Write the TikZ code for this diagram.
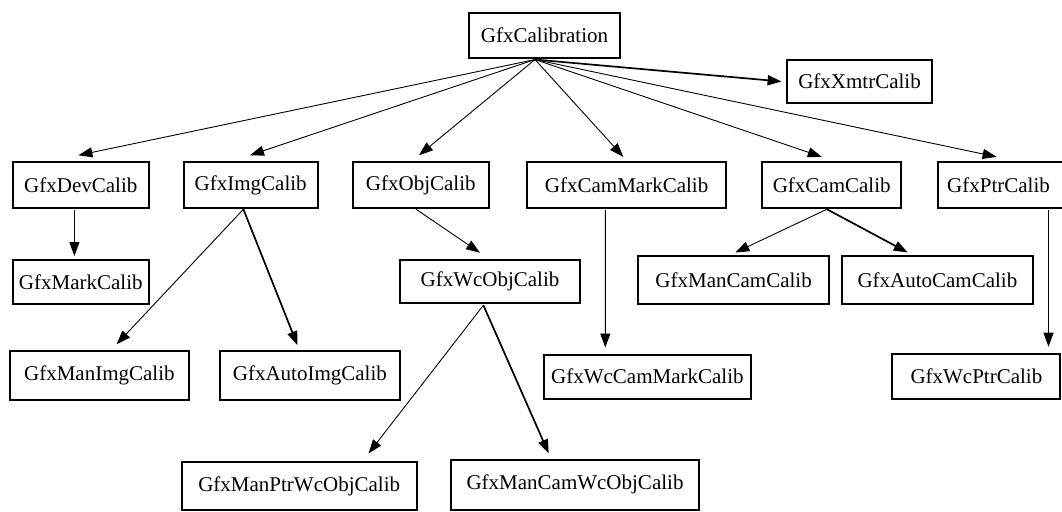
\documentclass[tikz,border=0pt]{standalone}
\usepackage{fontspec}
\setmainfont{Liberation Serif}
\usetikzlibrary{arrows.meta,calc}
\begin{document}
\begin{tikzpicture}[x=1pt,y=-1pt,
  cls/.style={draw=black,line width=2pt,inner sep=0pt,
    font=\fontsize{21}{25}\selectfont},
  edge/.style={draw=black,line width=0.9pt,
    -{Triangle[length=14pt,width=10pt]}},
  heavy/.style={edge,line width=1.7pt}]
\useasboundingbox (0,0) rectangle (1062,511);
% class boxes: \node at (centre) with box size
\node[cls,minimum width=151pt,minimum height=44.7pt] (cal) at (544.5,35.2) {GfxCalibration};
\node[cls,minimum width=145pt,minimum height=42pt] (xmtr) at (859.5,81.5) {GfxXmtrCalib};
\node[cls,minimum width=136pt,minimum height=45.5pt] (dev) at (80.8,185) {GfxDevCalib};
\node[cls,minimum width=134pt,minimum height=45.5pt] (img) at (250.7,185) {GfxImgCalib};
\node[cls,minimum width=136.4pt,minimum height=45.5pt] (obj) at (420.8,185) {GfxObjCalib};
\node[cls,minimum width=198.4pt,minimum height=45.5pt] (cammark) at (626.6,185) {GfxCamMarkCalib};
\node[cls,minimum width=138.5pt,minimum height=45.5pt] (cam) at (831.7,185) {GfxCamCalib};
\node[cls,minimum width=127pt,minimum height=45.5pt] (ptr) at (1001.5,185) {\hspace*{-6pt}GfxPtrCalib};
\node[cls,minimum width=136pt,minimum height=44.5pt] (mark) at (80.8,281.8) {GfxMarkCalib};
\node[cls,minimum width=180pt,minimum height=43.5pt] (wcobj) at (490,281.5) {GfxWcObjCalib};
\node[cls,minimum width=191.4pt,minimum height=48pt] (mancam) at (733.6,280) {GfxManCamCalib};
\node[cls,minimum width=191.7pt,minimum height=48pt] (autocam) at (937.4,280) {GfxAutoCamCalib};
\node[cls,minimum width=179.8pt,minimum height=49.7pt] (manimg) at (99.4,375.5) {GfxManImgCalib};
\node[cls,minimum width=180.3pt,minimum height=49.7pt] (autoimg) at (309.9,375.5) {GfxAutoImgCalib};
\node[cls,minimum width=207.6pt,minimum height=44pt] (wccammark) at (647.4,376.5) {GfxWcCamMarkCalib};
\node[cls,minimum width=168pt,minimum height=45pt] (wcptr) at (976.4,376) {GfxWcPtrCalib};
\node[cls,minimum width=234.6pt,minimum height=48pt] (manptr) at (299.2,486) {GfxManPtrWcObjCalib};
\node[cls,minimum width=247.3pt,minimum height=50pt] (mancamwc) at (575,484.5) {GfxManCamWcObjCalib};
% inheritance arrows from GfxCalibration
\draw[edge] ($(cal.south)+(-9.5,1)$) -- ($(dev.north)+(-2.4,-6)$);
\draw[edge] ($(cal.south)+(-9.5,1)$) -- ($(img.north)+(-0.7,-6)$);
\draw[edge] ($(cal.south)+(-9.5,1)$) -- ($(obj.north)+(-1.8,-6)$);
\draw[edge] ($(cal.south)+(-9.5,1)$) -- ($(cammark.north)+(-3.3,-4.4)$);
\draw[edge] ($(cal.south)+(-9.5,1)$) -- ($(cam.north)+(-9.9,-4.4)$);
\draw[edge] ($(cal.south)+(-9.5,1)$) -- ($(ptr.north)+(-4.9,-4.4)$);
\draw[heavy] ($(cal.south)+(-9.5,1)$) -- ($(xmtr.west)+(-4.4,0)$);
% second level
\draw[edge] ($(dev.south)+(-6.4,1.5)$) -- ($(mark.north)+(-6.4,-2.5)$);
\draw[edge] ($(img.south)+(-7.3,0.5)$) -- ($(manimg.north)+(17.2,-5.4)$);
\draw[heavy] ($(img.south)+(-7.3,0.5)$) -- ($(autoimg.north)+(-12.4,-4.4)$);
\draw[edge] ($(obj.south)+(-5,0.3)$) -- ($(wcobj.north)+(-10,-6)$);
\draw[edge] ($(wcobj.south)+(-6.6,1)$) -- ($(manptr.north)+(69.3,-7.5)$);
\draw[heavy] ($(wcobj.south)+(-6.6,1)$) -- ($(mancamwc.north)+(-26.3,-5)$);
\draw[edge] ($(cammark.south)+(-21.3,1)$) -- ($(wccammark.north)+(-42.1,-6)$);
\draw[edge] ($(cam.south)+(-4.8,0.5)$) -- ($(mancam.north)+(1.7,-2.5)$);
\draw[heavy] ($(cam.south)+(-4.8,0.5)$) -- ($(autocam.north)+(-29.7,-2.5)$);
\draw[edge] ($(ptr.south)+(47,1)$) -- ($(wcptr.north)+(72.1,-5.8)$);
\end{tikzpicture}
\end{document}
